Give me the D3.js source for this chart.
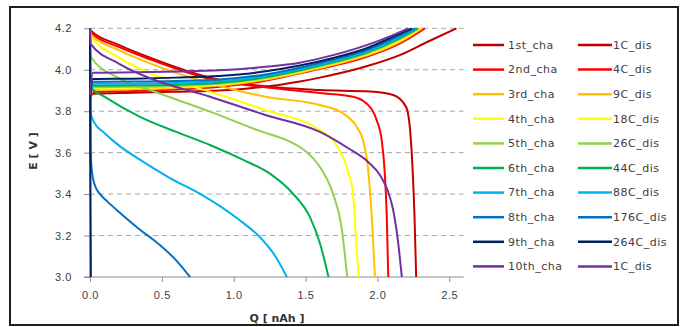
<!DOCTYPE html>
<html>
<head>
<meta charset="utf-8">
<script src="https://cdn.jsdelivr.net/npm/d3@7"></script>
<style>
  html, body { margin: 0; padding: 0; background: #fff; }
  svg { display: block; font-family: "DejaVu Sans", Verdana, sans-serif; }
</style>
</head>
<body>
<svg id="chart" width="685" height="327"></svg>
<script>
// series names + colours (Excel standard palette)
const chargeNames = ['1st_cha','2nd_cha','3rd_cha','4th_cha','5th_cha','6th_cha','7th_cha','8th_cha','9th_cha','10th_cha'];
const dischargeNames = ['1C_dis','4C_dis','9C_dis','18C_dis','26C_dis','44C_dis','88C_dis','176C_dis','264C_dis','1C_dis'];
const colors = ['#C00000','#FF0000','#FFC000','#FFFF00','#92D050','#00B050','#00B0F0','#0070C0','#002060','#7030A0'];

const xTicks = [0, 0.5, 1.0, 1.5, 2.0, 2.5];
const yTicks = [3.0, 3.2, 3.4, 3.6, 3.8, 4.0, 4.2];

// charge curves  [Q nAh, E V]
const cha1  = [[0,3.86],[0.02,3.884],[0.3,3.889],[0.6,3.894],[0.9,3.9],[1.1,3.91],[1.3,3.925],[1.46,3.943],[1.6,3.962],[1.93,4.018],[2.16,4.072],[2.35,4.135],[2.55,4.2]];
const cha2  = [[0,3.86],[0.02,3.893],[0.3,3.898],[0.6,3.905],[0.9,3.918],[1.2,3.945],[1.46,3.983],[1.7,4.02],[1.925,4.063],[2.15,4.125],[2.33,4.2]];
const cha3  = [[0,3.86],[0.02,3.902],[0.3,3.906],[0.6,3.912],[0.9,3.924],[1.2,3.95],[1.46,3.986],[1.7,4.025],[1.925,4.068],[2.15,4.132],[2.31,4.2]];
const cha4  = [[0,3.86],[0.02,3.909],[0.3,3.912],[0.6,3.917],[0.9,3.928],[1.2,3.954],[1.46,3.99],[1.7,4.03],[1.925,4.073],[2.15,4.138],[2.3,4.2]];
const cha5  = [[0,3.86],[0.02,3.916],[0.3,3.918],[0.6,3.922],[0.9,3.932],[1.2,3.958],[1.46,3.994],[1.7,4.034],[1.925,4.078],[2.15,4.145],[2.29,4.2]];
const cha6  = [[0,3.86],[0.02,3.923],[0.3,3.925],[0.6,3.928],[0.9,3.937],[1.2,3.962],[1.46,3.998],[1.7,4.038],[1.925,4.083],[2.15,4.15],[2.28,4.2]];
const cha7  = [[0,3.86],[0.02,3.932],[0.3,3.933],[0.6,3.936],[0.9,3.944],[1.2,3.968],[1.46,4.003],[1.7,4.043],[1.925,4.088],[2.15,4.156],[2.27,4.2]];
const cha8  = [[0,3.86],[0.02,3.942],[0.3,3.943],[0.6,3.946],[0.9,3.953],[1.2,3.975],[1.46,4.01],[1.7,4.05],[1.925,4.095],[2.15,4.163],[2.26,4.2]];
const cha9  = [[0,3.87],[0.02,3.955],[0.3,3.957],[0.6,3.962],[0.9,3.97],[1.2,3.99],[1.46,4.02],[1.7,4.058],[1.925,4.104],[2.15,4.172],[2.24,4.2]];
const cha10 = [[0,3.88],[0.02,3.985],[0.3,3.988],[0.6,3.992],[0.9,3.998],[1.2,4.013],[1.46,4.034],[1.6,4.055],[1.925,4.119],[2.1,4.165],[2.215,4.2]];

// discharge curves  [Q nAh, E V]
const dis1C   = [[0,4.2],[0.005,4.19],[0.2,4.12],[0.418,4.058],[0.835,3.962],[1.22,3.92],[1.6,3.902],[1.95,3.895],[2.11,3.878],[2.2,3.82],[2.23,3.69],[2.245,3.52],[2.258,3.3],[2.27,3.0]];
const dis4C   = [[0,4.2],[0.005,4.18],[0.2,4.11],[0.418,4.05],[0.835,3.955],[1.22,3.915],[1.6,3.888],[1.83,3.87],[1.92,3.84],[1.995,3.757],[2.03,3.66],[2.05,3.516],[2.065,3.3],[2.076,3.0]];
const dis9C   = [[0,4.2],[0.005,4.17],[0.2,4.095],[0.418,4.031],[0.835,3.935],[1.22,3.87],[1.6,3.83],[1.76,3.79],[1.855,3.725],[1.9,3.66],[1.936,3.516],[1.96,3.3],[1.983,3.0]];
const dis18C  = [[0,4.2],[0.005,4.163],[0.2,4.06],[0.418,3.983],[0.835,3.894],[1.22,3.806],[1.6,3.709],[1.69,3.66],[1.76,3.58],[1.8,3.5],[1.83,3.404],[1.85,3.2],[1.87,3.0]];
const dis26C  = [[0,4.2],[0.005,4.063],[0.2,3.96],[0.418,3.902],[0.835,3.798],[1.2,3.7],[1.37,3.66],[1.485,3.615],[1.58,3.55],[1.69,3.404],[1.75,3.243],[1.79,3.0]];
const dis44C  = [[0,4.2],[0.005,3.915],[0.1,3.87],[0.348,3.773],[0.6,3.7],[0.835,3.637],[1.067,3.565],[1.25,3.5],[1.41,3.404],[1.53,3.29],[1.6,3.163],[1.66,3.0]];
const dis88C  = [[0,4.2],[0.005,3.79],[0.03,3.745],[0.1,3.695],[0.2,3.635],[0.35,3.565],[0.55,3.48],[0.77,3.4],[1.04,3.275],[1.18,3.194],[1.29,3.1],[1.37,3.0]];
const dis176C = [[0,4.2],[0.005,3.6],[0.015,3.5],[0.035,3.44],[0.07,3.4],[0.12,3.365],[0.2,3.315],[0.35,3.227],[0.45,3.175],[0.6,3.08],[0.696,3.0]];
const dis264C = [[0,4.2],[0.002,3.6],[0.006,3.0]];
const dis1Cb  = [[0,4.2],[0.005,4.125],[0.2,4.03],[0.418,3.959],[0.835,3.87],[1.22,3.782],[1.6,3.7],[1.8,3.62],[1.936,3.555],[2.02,3.49],[2.07,3.42],[2.11,3.323],[2.145,3.163],[2.17,3.0]];

const chargeData = [cha1, cha2, cha3, cha4, cha5, cha6, cha7, cha8, cha9, cha10];
const dischargeData = [dis1C, dis4C, dis9C, dis18C, dis26C, dis44C, dis88C, dis176C, dis264C, dis1Cb];

const svg = d3.select('#chart');
const plotL = 90, plotR = 463.6, plotT = 28.3, plotB = 277;

const x = d3.scaleLinear().domain([0, 2.6]).range([plotL, plotR]);
const y = d3.scaleLinear().domain([3.0, 4.2]).range([plotB, plotT]);

// outer frame
svg.append('rect').attr('x', 10).attr('y', 7).attr('width', 668).attr('height', 318)
  .attr('fill', 'none').attr('stroke', '#1e1e1e').attr('stroke-width', 2);

// horizontal dashed grid
svg.append('g').selectAll('line').data(yTicks.filter(d => d > 3.0)).join('line')
  .attr('x1', plotL).attr('x2', plotR)
  .attr('y1', d => y(d)).attr('y2', d => y(d))
  .attr('stroke', '#a6a6a6').attr('stroke-width', 1).attr('stroke-dasharray', '5,4');

// axes
const yAxis = svg.append('g').attr('transform', `translate(${plotL},0)`)
  .call(d3.axisLeft(y).tickValues(yTicks).tickFormat(d3.format('.1f')).tickSize(6).tickPadding(12).tickSizeOuter(0));
const xAxis = svg.append('g').attr('transform', `translate(0,${plotB})`)
  .call(d3.axisBottom(x).tickValues(xTicks).tickFormat(d3.format('.1f')).tickSize(5).tickPadding(9).tickSizeOuter(0));
[yAxis, xAxis].forEach(a => {
  a.select('.domain').attr('stroke', '#8c8c8c').attr('stroke-width', 1.2);
  a.selectAll('.tick line').attr('stroke', '#8c8c8c');
  a.selectAll('.tick text').attr('fill', '#404040').style('font-size', '11px').style('letter-spacing', '0.6px');
});
yAxis.select('.domain').attr('d', `M0,${y(4.2)}V${plotB}`);
xAxis.select('.domain').attr('d', `M${plotL - 6},0H${plotR}`);

// axis titles
svg.append('text').attr('transform', `translate(37,151) rotate(-90)`)
  .attr('text-anchor', 'middle').style('font-size', '11px').style('font-weight', 'bold').attr('fill', '#333')
  .text('E [ V ]');
svg.append('text').attr('x', 277).attr('y', 322)
  .attr('text-anchor', 'middle').style('font-size', '11px').style('font-weight', 'bold').attr('fill', '#333')
  .text('Q [ nAh ]');

// curves
const line = d3.line().x(d => x(d[0])).y(d => y(d[1])).curve(d3.curveMonotoneX);
const plot = svg.append('g');
chargeData.forEach((pts, i) => {
  plot.append('path').attr('d', line(pts)).attr('fill', 'none')
    .attr('stroke', colors[i]).attr('stroke-width', 2);
  plot.append('path').attr('d', line(dischargeData[i])).attr('fill', 'none')
    .attr('stroke', colors[i]).attr('stroke-width', 2);
});

// legend (two columns)
const legend = svg.append('g');
colors.forEach((c, i) => {
  const ly = 45 + i * 24.6;
  [[473, 504, 508, chargeNames[i]], [578, 612, 613, dischargeNames[i]]].forEach(([x1, x2, tx, name]) => {
    legend.append('line').attr('x1', x1).attr('x2', x2).attr('y1', ly).attr('y2', ly)
      .attr('stroke', c).attr('stroke-width', 2.5);
    legend.append('text').attr('x', tx).attr('y', ly).attr('dy', '0.35em')
      .style('font-size', '11px').style('letter-spacing', '0.5px').attr('fill', '#404040').text(name);
  });
});
</script>
</body>
</html>
